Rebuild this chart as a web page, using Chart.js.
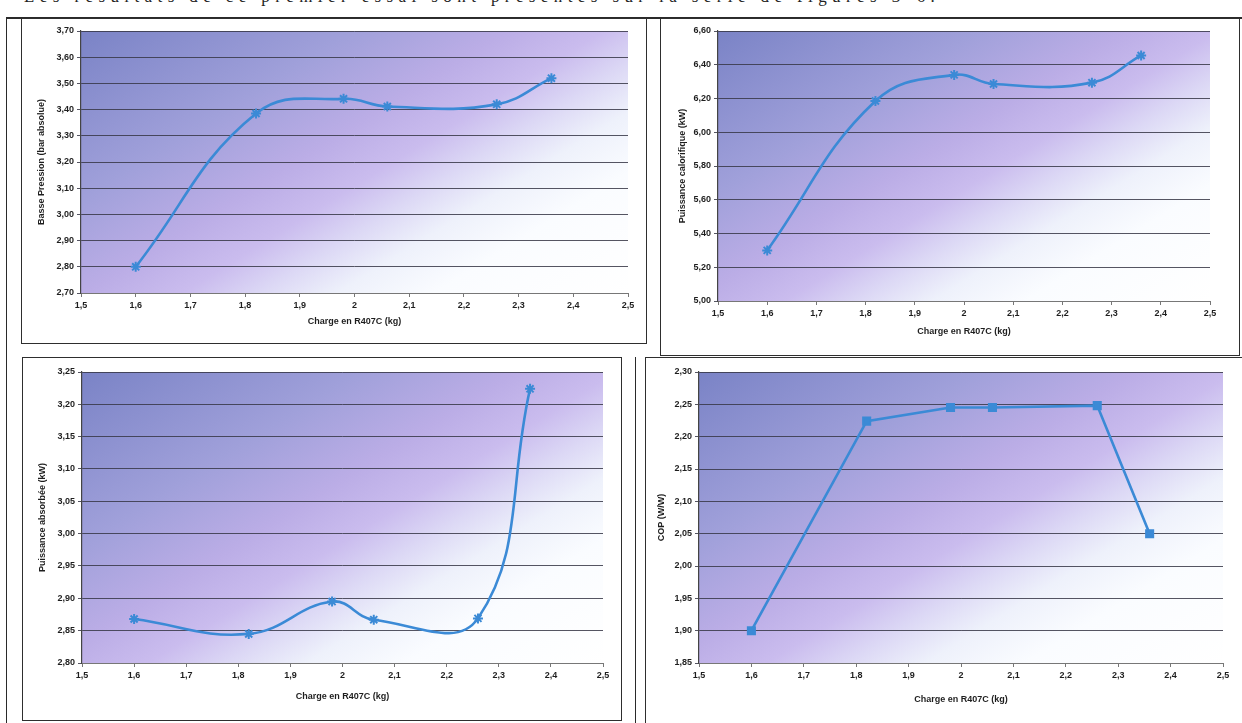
<!DOCTYPE html>
<html>
<head>
<meta charset="utf-8">
<script src="https://cdn.jsdelivr.net/npm/chart.js@4.4.1/dist/chart.umd.min.js"></script>
<style>
  html, body { margin: 0; padding: 0; background: #fff; }
  body { width: 1242px; height: 723px; position: relative; overflow: hidden; }
  .rule { position: absolute; background: #2a2a2a; }
  .box { position: absolute; border: 1.5px solid #2e2e2e; box-sizing: border-box; }
  canvas { position: absolute; }
  .intro { position: absolute; left: 24px; top: -13px; font: 17px "Liberation Serif", serif; letter-spacing: 5.4px; color: #222; white-space: nowrap; }
</style>
</head>
<body>
<div class="intro">Les résultats de ce premier essai sont présentés sur la série de figures 3-6.</div>

<div class="rule" style="left:6px;top:17px;width:1236px;height:2px"></div>
<div class="rule" style="left:6px;top:17px;width:1px;height:706px"></div>
<div class="rule" style="left:635px;top:357px;width:1px;height:366px"></div>

<div class="box" style="left:21px;top:18px;width:626px;height:326px"></div>
<div class="box" style="left:660px;top:18px;width:580px;height:338px"></div>
<div class="box" style="left:22px;top:357px;width:600px;height:364px"></div>
<div class="box" style="left:645px;top:357px;width:600px;height:370px"></div>

<canvas id="c1" style="left:21px;top:18px" width="626" height="325"></canvas>
<canvas id="c2" style="left:662px;top:18px" width="578" height="337"></canvas>
<canvas id="c3" style="left:22px;top:357px" width="600" height="363"></canvas>
<canvas id="c4" style="left:645px;top:357px" width="597" height="366"></canvas>

<script>
// charge en R407C (kg)
const charge = [1.6, 1.82, 1.98, 2.06, 2.26, 2.36];

const bassePression = [2.80, 3.385, 3.441, 3.412, 3.42, 3.52];
const puissanceCalorifique = [5.30, 6.185, 6.34, 6.286, 6.294, 6.455];
const puissanceAbsorbee = [2.868, 2.845, 2.895, 2.867, 2.869, 3.224];
const cop = [1.90, 2.224, 2.245, 2.245, 2.248, 2.05];

const xTitle = 'Charge en R407C (kg)';
const yTitles = ['Basse Pression (bar absolue)', 'Puissance calorifique (kW)', 'Puissance absorbée (kW)', 'COP (W/W)'];

const lineBlue = '#3b8ad6';
const fontFamily = '"Liberation Sans", Arial, sans-serif';

// excel style plot area fill: dark blue top-left, lavender, white bottom-right
const plotBackground = {
    id: 'plotBackground',
    beforeDraw(chart) {
        const ctx = chart.ctx;
        const a = chart.chartArea;
        const w = a.right - a.left, h = a.bottom - a.top;
        const dx = 0.528, dy = 0.849;
        const L = w * dx + h * dy;
        const g = ctx.createLinearGradient(a.left, a.top, a.left + L * dx, a.top + L * dy);
        g.addColorStop(0, '#7a83c6');
        g.addColorStop(0.28, '#a0a0da');
        g.addColorStop(0.44, '#bbade6');
        g.addColorStop(0.54, '#cabcee');
        g.addColorStop(0.62, '#dcd8f5');
        g.addColorStop(0.7, '#eef1fb');
        g.addColorStop(0.8, '#fafcff');
        g.addColorStop(1, '#ffffff');
        ctx.save();
        ctx.fillStyle = g;
        ctx.fillRect(a.left, a.top, w, h);
        ctx.restore();
    }
};

const makeChart = (id, values, opt) => {
    const ctx = document.getElementById(id).getContext('2d');
    return new Chart(ctx, {
        type: 'line',
        data: {
            datasets: [{
                data: charge.map((x, i) => ({x: x, y: values[i]})),
                borderColor: lineBlue,
                backgroundColor: lineBlue,
                borderWidth: 2.6,
                tension: opt.tension,
                pointStyle: opt.marker,
                pointRadius: 5,
                pointBorderWidth: 2,
                pointBackgroundColor: lineBlue,
                pointBorderColor: lineBlue,
            }]
        },
        options: {
            responsive: false,
            animation: false,
            events: [],
            layout: {padding: {top: opt.top, right: opt.right, left: 0, bottom: 0}},
            plugins: {legend: {display: false}, tooltip: {enabled: false}},
            scales: {
                x: {
                    type: 'linear',
                    min: 1.5, max: 2.5,
                    afterFit: (s) => { s.height = opt.bottom; },
                    ticks: {
                        stepSize: 0.1,
                        padding: 3,
                        color: '#1e1e1e',
                        font: {family: fontFamily, size: 9, weight: 'bold'},
                        callback: (v) => String(Math.round(v * 10) / 10).replace('.', ','),
                    },
                    grid: {drawOnChartArea: false, tickLength: 4, color: '#777'},
                    border: {color: '#777', width: 1},
                    title: {
                        display: true, text: xTitle, color: '#1e1e1e',
                        font: {family: fontFamily, size: 9, weight: 'bold'},
                        padding: {top: 0, bottom: opt.xTitlePad},
                    },
                },
                y: {
                    min: opt.min, max: opt.max,
                    afterFit: (s) => { s.width = opt.left; },
                    ticks: {
                        stepSize: opt.step,
                        padding: 3,
                        color: '#1e1e1e',
                        font: {family: fontFamily, size: 9, weight: 'bold'},
                        callback: (v) => v.toFixed(2).replace('.', ','),
                    },
                    grid: {color: 'rgba(55,55,70,0.85)', lineWidth: 1, tickLength: 4},
                    border: {color: '#444', width: 1.2},
                    title: {
                        display: true, text: opt.yTitle, color: '#1e1e1e',
                        font: {family: fontFamily, size: 9, weight: 'bold'},
                        padding: {top: opt.yTitlePad, bottom: 0},
                    },
                },
            },
        },
        plugins: [plotBackground],
    });
};

makeChart('c1', bassePression, {min: 2.7, max: 3.7, step: 0.1, yTitle: yTitles[0], marker: 'star', tension: 0.42,
    top: 13, right: 19, left: 60, bottom: 50, yTitlePad: 15, xTitlePad: 16});
makeChart('c2', puissanceCalorifique, {min: 5.0, max: 6.6, step: 0.2, yTitle: yTitles[1], marker: 'star', tension: 0.42,
    top: 13, right: 30, left: 56, bottom: 54, yTitlePad: 15, xTitlePad: 18});
makeChart('c3', puissanceAbsorbee, {min: 2.8, max: 3.25, step: 0.05, yTitle: yTitles[2], marker: 'star', tension: 0.42,
    top: 15, right: 19, left: 60, bottom: 57, yTitlePad: 15, xTitlePad: 18});
makeChart('c4', cop, {min: 1.85, max: 2.3, step: 0.05, yTitle: yTitles[3], marker: 'rect', tension: 0,
    top: 15, right: 19, left: 54, bottom: 60, yTitlePad: 11, xTitlePad: 18});
</script>
</body>
</html>
